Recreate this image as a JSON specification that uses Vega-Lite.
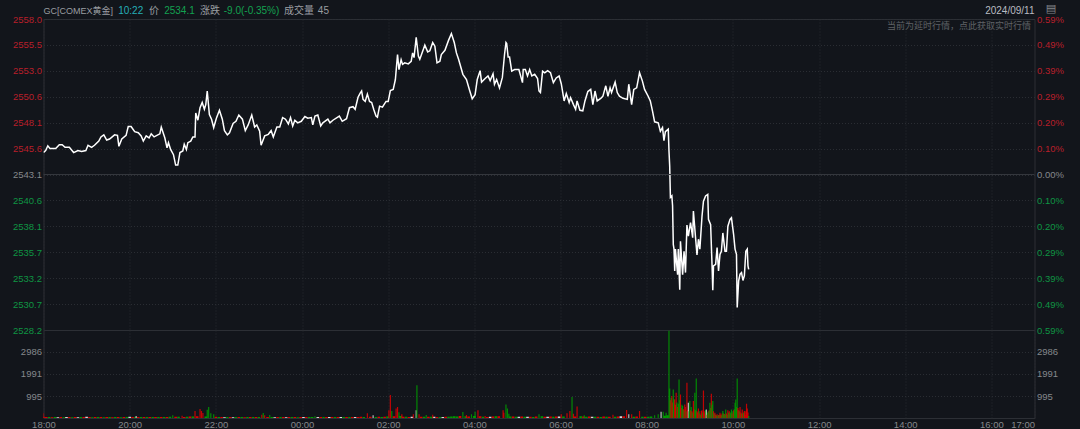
{"$schema":"https://vega.github.io/schema/vega-lite/v6.json","background":"#12151b","padding":{"left":11.5,"right":18,"top":2,"bottom":0},"spacing":0,"bounds":"flush","config":{"font":"Liberation Sans, Noto Sans CJK SC","view":{"stroke":"#2c2f35","strokeWidth":1},"axis":{"labelFontSize":9.5,"labelColor":"#85888c","ticks":false,"domain":false,"title":null,"labelPadding":2,"labelOverlap":false,"labelBound":false,"gridColor":"#2a2d33","gridDash":[1,2],"gridOpacity":1}},"resolve":{"scale":{"color":"independent"}},"datasets":{"price":[
{"minute":0,"price":2545.2},{"minute":3,"price":2545.4},{"minute":6,"price":2545.85},{"minute":9,"price":2545.6},{"minute":13,"price":2545.6},{"minute":17,"price":2545.6},{"minute":22,"price":2545.95},{"minute":26,"price":2545.95},{"minute":30,"price":2545.7},{"minute":36,"price":2545.7},{"minute":42,"price":2545.2},{"minute":48,"price":2545.4},{"minute":53,"price":2545.3},{"minute":59,"price":2545.4},{"minute":62,"price":2545.9},{"minute":67,"price":2545.7},{"minute":71,"price":2545.9},{"minute":77,"price":2546.3},{"minute":80,"price":2546.7},{"minute":84,"price":2546.9},{"minute":88,"price":2546.4},{"minute":92,"price":2546.5},{"minute":99,"price":2546.9},{"minute":103,"price":2546.85},{"minute":105,"price":2545.8},{"minute":109,"price":2546.5},{"minute":115,"price":2546.85},{"minute":118,"price":2547.7},{"minute":122,"price":2547.7},{"minute":127,"price":2547.2},{"minute":132,"price":2547.1},{"minute":136,"price":2546.8},{"minute":139,"price":2546.3},{"minute":143,"price":2546.8},{"minute":147,"price":2546.6},{"minute":150,"price":2547.0},{"minute":154,"price":2546.7},{"minute":162,"price":2547.0},{"minute":164,"price":2547.65},{"minute":169,"price":2546.6},{"minute":172,"price":2545.65},{"minute":174,"price":2546.15},{"minute":177,"price":2545.5},{"minute":181,"price":2545.0},{"minute":184,"price":2544.0},{"minute":187,"price":2544.0},{"minute":190,"price":2545.2},{"minute":194,"price":2545.35},{"minute":196,"price":2546.0},{"minute":199,"price":2545.5},{"minute":201,"price":2546.15},{"minute":205,"price":2546.3},{"minute":208,"price":2546.7},{"minute":211,"price":2546.7},{"minute":212,"price":2549.0},{"minute":215,"price":2548.3},{"minute":218,"price":2549.5},{"minute":221,"price":2550.0},{"minute":224,"price":2549.35},{"minute":226,"price":2549.8},{"minute":228,"price":2551.1},{"minute":231,"price":2548.85},{"minute":234,"price":2548.4},{"minute":237,"price":2547.6},{"minute":241,"price":2548.55},{"minute":245,"price":2549.25},{"minute":249,"price":2548.4},{"minute":252,"price":2547.3},{"minute":256,"price":2546.9},{"minute":259,"price":2547.1},{"minute":264,"price":2548.0},{"minute":268,"price":2548.2},{"minute":272,"price":2548.8},{"minute":277,"price":2548.4},{"minute":281,"price":2547.3},{"minute":285,"price":2547.85},{"minute":290,"price":2548.8},{"minute":294,"price":2547.65},{"minute":297,"price":2547.85},{"minute":301,"price":2547.25},{"minute":303,"price":2545.9},{"minute":308,"price":2546.8},{"minute":313,"price":2546.95},{"minute":317,"price":2547.3},{"minute":320,"price":2546.7},{"minute":325,"price":2547.65},{"minute":329,"price":2547.65},{"minute":333,"price":2548.55},{"minute":337,"price":2548.4},{"minute":341,"price":2547.95},{"minute":344,"price":2548.55},{"minute":347,"price":2547.75},{"minute":350,"price":2548.3},{"minute":354,"price":2548.05},{"minute":359,"price":2548.2},{"minute":364,"price":2548.65},{"minute":368,"price":2548.5},{"minute":373,"price":2548.55},{"minute":375,"price":2547.85},{"minute":378,"price":2548.7},{"minute":382,"price":2548.8},{"minute":386,"price":2547.75},{"minute":389,"price":2548.05},{"minute":396,"price":2548.4},{"minute":399,"price":2548.05},{"minute":403,"price":2548.3},{"minute":412,"price":2548.7},{"minute":416,"price":2548.2},{"minute":422,"price":2548.45},{"minute":426,"price":2549.5},{"minute":431,"price":2549.6},{"minute":434,"price":2549.35},{"minute":438,"price":2550.5},
{"minute":441,"price":2550.9},{"minute":443,"price":2551.1},{"minute":445,"price":2550.3},{"minute":448,"price":2550.1},{"minute":451,"price":2550.8},{"minute":454,"price":2550.1},{"minute":457,"price":2550.0},{"minute":460,"price":2549.3},{"minute":463,"price":2548.7},{"minute":465,"price":2548.6},{"minute":468,"price":2549.65},{"minute":472,"price":2549.55},{"minute":477,"price":2550.1},{"minute":480,"price":2550.1},{"minute":483,"price":2551.15},{"minute":487,"price":2551.25},{"minute":490,"price":2552.2},{"minute":493,"price":2554.6},{"minute":495,"price":2553.15},{"minute":498,"price":2554.1},{"minute":500,"price":2553.65},{"minute":503,"price":2553.8},{"minute":508,"price":2553.7},{"minute":512,"price":2553.95},{"minute":514,"price":2554.75},{"minute":516,"price":2554.3},{"minute":519,"price":2556.25},{"minute":522,"price":2554.45},{"minute":524,"price":2554.15},{"minute":529,"price":2555.1},{"minute":531,"price":2555.5},{"minute":535,"price":2554.85},{"minute":538,"price":2554.95},{"minute":542,"price":2555.75},{"minute":545,"price":2555.4},{"minute":548,"price":2553.8},{"minute":552,"price":2553.95},{"minute":554,"price":2554.6},{"minute":559,"price":2555.0},{"minute":564,"price":2555.95},{"minute":568,"price":2556.6},{"minute":572,"price":2555.75},{"minute":575,"price":2554.75},{"minute":578,"price":2554.15},{"minute":584,"price":2552.7},{"minute":589,"price":2552.2},{"minute":593,"price":2551.25},{"minute":597,"price":2550.35},{"minute":601,"price":2550.75},{"minute":604,"price":2552.2},{"minute":608,"price":2553.05},{"minute":610,"price":2551.95},{"minute":615,"price":2552.3},{"minute":619,"price":2552.55},{"minute":622,"price":2552.1},{"minute":626,"price":2552.75},{"minute":628,"price":2551.75},{"minute":631,"price":2552.2},{"minute":635,"price":2551.4},{"minute":639,"price":2552.4},{"minute":642,"price":2554.6},{"minute":644,"price":2555.75},{"minute":645,"price":2555.65},{"minute":647,"price":2554.35},{"minute":649,"price":2554.35},{"minute":652,"price":2553.0},{"minute":656,"price":2553.15},{"minute":662,"price":2553.15},{"minute":667,"price":2551.9},{"minute":668,"price":2553.15},{"minute":671,"price":2553.15},{"minute":674,"price":2552.55},{"minute":677,"price":2553.15},{"minute":680,"price":2552.55},{"minute":684,"price":2552.7},{"minute":688,"price":2552.3},{"minute":690,"price":2551.1},{"minute":692,"price":2550.95},{"minute":695,"price":2553.0},{"minute":698,"price":2552.85},{"minute":702,"price":2553.05},{"minute":706,"price":2552.85},{"minute":710,"price":2551.9},{"minute":714,"price":2552.35},{"minute":718,"price":2552.55},{"minute":721,"price":2551.8},{"minute":725,"price":2550.15},{"minute":728,"price":2550.85},{"minute":732,"price":2550.0},{"minute":734,"price":2550.45},{"minute":738,"price":2549.8},{"minute":741,"price":2549.35},{"minute":743,"price":2550.15},{"minute":747,"price":2549.25},{"minute":751,"price":2549.2},{"minute":754,"price":2550.15},{"minute":758,"price":2551.05},{"minute":762,"price":2551.25},{"minute":765,"price":2549.8},{"minute":768,"price":2551.1},{"minute":771,"price":2550.15},{"minute":776,"price":2550.4},{"minute":779,"price":2550.6},{"minute":783,"price":2551.6},{"minute":786,"price":2550.6},{"minute":789,"price":2551.4},{"minute":791,"price":2550.95},{"minute":796,"price":2551.95},{"minute":799,"price":2550.95},{"minute":802,"price":2550.6},{"minute":807,"price":2550.4},{"minute":813,"price":2550.3},{"minute":815,"price":2551.75},{"minute":819,"price":2549.8},{"minute":822,"price":2551.25},{"minute":826,"price":2551.4},{"minute":830,"price":2552.85},{"minute":834,"price":2552.05},{"minute":837,"price":2551.25},{"minute":842,"price":2550.6},{"minute":845,"price":2550.15},{"minute":848,"price":2549.2},{"minute":851,"price":2548.15},{"minute":856,"price":2548.05},{"minute":859,"price":2547.25},{"minute":862,"price":2547.6},{"minute":864,"price":2546.35},{"minute":866,"price":2547.2},{"minute":870,"price":2547.45},{"minute":871,"price":2545.35},{"minute":872,"price":2543.9},{"minute":873,"price":2540.9},{"minute":875,"price":2541.05},{"minute":876,"price":2540.1},{"minute":877,"price":2536.4},{"minute":878,"price":2535.95},{"minute":879,"price":2533.85},{"minute":880,"price":2535.95},{"minute":883,"price":2533.5},{"minute":884,"price":2535.95},{"minute":886,"price":2532.05},{"minute":887,"price":2536.7},{"minute":890,"price":2533.5},{"minute":892,"price":2535.75},{"minute":894,"price":2533.7},{"minute":896,"price":2538.25},{"minute":898,"price":2537.2},{"minute":901,"price":2538.5},{"minute":904,"price":2537.05},{"minute":905,"price":2539.6},{"minute":908,"price":2537.05},{"minute":910,"price":2535.4},{"minute":912,"price":2536.9},{"minute":914,"price":2535.95},{"minute":917,"price":2539.1},{"minute":919,"price":2540.55},{"minute":922,"price":2541.05},{"minute":925,"price":2541.2},{"minute":926,"price":2538.8},{"minute":929,"price":2538.3},{"minute":931,"price":2534.35},{"minute":932,"price":2532.0},{"minute":933,"price":2534.35},{"minute":936,"price":2534.5},{"minute":938,"price":2536.1},{"minute":940,"price":2533.85},{"minute":942,"price":2535.45},{"minute":944,"price":2535.75},{"minute":946,"price":2537.5},{"minute":949,"price":2535.75},{"minute":951,"price":2535.75},{"minute":953,"price":2538.15},{"minute":956,"price":2538.8},{"minute":958,"price":2538.95},{"minute":961,"price":2537.35},{"minute":963,"price":2535.95},{"minute":965,"price":2535.45},{"minute":966,"price":2530.35},{"minute":968,"price":2532.9},{"minute":970,"price":2533.55},{"minute":972,"price":2533.7},{"minute":974,"price":2532.95},{"minute":976,"price":2533.4},{"minute":978,"price":2535.75},{"minute":980,"price":2535.95},{"minute":981,"price":2534.35},{"minute":982,"price":2534.0}],
"base":[{"minute":0,"volume":60,"side":"up"},{"minute":4,"volume":50,"side":"up"},{"minute":8,"volume":40,"side":"down"},{"minute":12,"volume":35,"side":"up"},{"minute":16,"volume":45,"side":"down"},{"minute":20,"volume":30,"side":"flat"},{"minute":24,"volume":40,"side":"up"},{"minute":28,"volume":35,"side":"down"},{"minute":32,"volume":40,"side":"flat"},{"minute":36,"volume":45,"side":"up"},{"minute":40,"volume":35,"side":"down"},{"minute":44,"volume":40,"side":"up"},{"minute":48,"volume":30,"side":"flat"},{"minute":52,"volume":40,"side":"down"},{"minute":56,"volume":45,"side":"up"},{"minute":60,"volume":55,"side":"flat"},{"minute":64,"volume":40,"side":"up"},{"minute":68,"volume":35,"side":"down"},{"minute":72,"volume":40,"side":"up"},{"minute":76,"volume":45,"side":"down"},{"minute":80,"volume":40,"side":"up"},{"minute":84,"volume":35,"side":"down"},{"minute":88,"volume":40,"side":"up"},{"minute":92,"volume":45,"side":"down"},{"minute":96,"volume":35,"side":"up"},{"minute":100,"volume":40,"side":"down"},{"minute":104,"volume":45,"side":"up"},{"minute":108,"volume":35,"side":"down"},{"minute":112,"volume":40,"side":"up"},{"minute":116,"volume":50,"side":"down"},{"minute":120,"volume":55,"side":"flat"},{"minute":124,"volume":45,"side":"up"},{"minute":128,"volume":40,"side":"down"},{"minute":132,"volume":45,"side":"up"},{"minute":136,"volume":40,"side":"down"},{"minute":140,"volume":50,"side":"up"},{"minute":144,"volume":40,"side":"down"},{"minute":148,"volume":45,"side":"up"},{"minute":152,"volume":40,"side":"down"},{"minute":156,"volume":50,"side":"up"},{"minute":160,"volume":45,"side":"down"},{"minute":164,"volume":50,"side":"up"},{"minute":168,"volume":45,"side":"down"},{"minute":172,"volume":50,"side":"up"},{"minute":176,"volume":60,"side":"down"},{"minute":184,"volume":55,"side":"up"},{"minute":188,"volume":60,"side":"down"},{"minute":196,"volume":50,"side":"up"},{"minute":200,"volume":60,"side":"down"},{"minute":204,"volume":65,"side":"up"},{"minute":208,"volume":70,"side":"down"},{"minute":214,"volume":80,"side":"up"},{"minute":226,"volume":70,"side":"down"},{"minute":240,"volume":55,"side":"up"},{"minute":244,"volume":45,"side":"down"},{"minute":248,"volume":40,"side":"up"},{"minute":252,"volume":35,"side":"flat"},{"minute":256,"volume":40,"side":"down"},{"minute":260,"volume":45,"side":"up"},{"minute":264,"volume":35,"side":"flat"},{"minute":268,"volume":40,"side":"down"},{"minute":272,"volume":45,"side":"up"},{"minute":276,"volume":40,"side":"down"},{"minute":280,"volume":35,"side":"up"},{"minute":284,"volume":45,"side":"down"},{"minute":288,"volume":40,"side":"up"},{"minute":292,"volume":45,"side":"down"},{"minute":296,"volume":40,"side":"up"},{"minute":300,"volume":50,"side":"down"},{"minute":312,"volume":40,"side":"up"},{"minute":318,"volume":45,"side":"down"},{"minute":322,"volume":35,"side":"flat"},{"minute":326,"volume":40,"side":"up"},{"minute":330,"volume":45,"side":"down"},{"minute":334,"volume":40,"side":"up"},{"minute":338,"volume":35,"side":"flat"},{"minute":342,"volume":40,"side":"up"},{"minute":346,"volume":45,"side":"down"},{"minute":350,"volume":40,"side":"up"},{"minute":354,"volume":35,"side":"down"},{"minute":358,"volume":45,"side":"up"},{"minute":362,"volume":40,"side":"flat"},{"minute":366,"volume":45,"side":"up"},{"minute":370,"volume":40,"side":"down"},{"minute":374,"volume":50,"side":"down"},{"minute":382,"volume":45,"side":"flat"},{"minute":386,"volume":40,"side":"up"},{"minute":390,"volume":45,"side":"down"},{"minute":394,"volume":40,"side":"up"},{"minute":398,"volume":45,"side":"flat"},{"minute":402,"volume":50,"side":"up"},{"minute":406,"volume":40,"side":"down"},{"minute":410,"volume":45,"side":"up"},{"minute":414,"volume":50,"side":"flat"},{"minute":418,"volume":45,"side":"down"},{"minute":422,"volume":50,"side":"up"},{"minute":426,"volume":45,"side":"down"},{"minute":430,"volume":50,"side":"up"},{"minute":434,"volume":45,"side":"flat"},{"minute":438,"volume":50,"side":"up"},{"minute":442,"volume":60,"side":"up"},{"minute":446,"volume":50,"side":"down"},{"minute":455,"volume":60,"side":"up"},{"minute":463,"volume":50,"side":"down"},{"minute":467,"volume":55,"side":"up"},{"minute":471,"volume":50,"side":"down"},{"minute":475,"volume":60,"side":"up"},{"minute":479,"volume":70,"side":"down"},{"minute":488,"volume":80,"side":"up"},{"minute":497,"volume":90,"side":"down"},{"minute":501,"volume":60,"side":"up"},{"minute":505,"volume":55,"side":"down"},{"minute":509,"volume":50,"side":"up"},{"minute":513,"volume":60,"side":"flat"},{"minute":526,"volume":55,"side":"up"},{"minute":530,"volume":60,"side":"down"},{"minute":536,"volume":55,"side":"up"},{"minute":540,"volume":60,"side":"down"},{"minute":544,"volume":55,"side":"flat"},{"minute":548,"volume":50,"side":"up"},{"minute":552,"volume":45,"side":"down"},{"minute":556,"volume":50,"side":"flat"},{"minute":560,"volume":55,"side":"up"},{"minute":564,"volume":60,"side":"down"},{"minute":568,"volume":70,"side":"down"},{"minute":572,"volume":80,"side":"down"},{"minute":576,"volume":70,"side":"down"},{"minute":580,"volume":90,"side":"up"},{"minute":588,"volume":80,"side":"down"},{"minute":592,"volume":70,"side":"up"},{"minute":600,"volume":90,"side":"down"},{"minute":608,"volume":75,"side":"up"},{"minute":612,"volume":60,"side":"down"},{"minute":618,"volume":50,"side":"up"},{"minute":622,"volume":60,"side":"flat"},{"minute":626,"volume":70,"side":"up"},{"minute":630,"volume":80,"side":"down"},{"minute":634,"volume":75,"side":"up"},{"minute":650,"volume":70,"side":"down"},{"minute":654,"volume":65,"side":"up"},{"minute":658,"volume":55,"side":"down"},{"minute":662,"volume":60,"side":"flat"},{"minute":666,"volume":65,"side":"up"},{"minute":670,"volume":60,"side":"down"},{"minute":674,"volume":55,"side":"flat"},{"minute":678,"volume":60,"side":"up"},{"minute":682,"volume":50,"side":"down"},{"minute":686,"volume":70,"side":"up"},{"minute":694,"volume":75,"side":"down"},{"minute":698,"volume":60,"side":"up"},{"minute":702,"volume":55,"side":"flat"},{"minute":706,"volume":65,"side":"up"},{"minute":710,"volume":60,"side":"down"},{"minute":714,"volume":65,"side":"up"},{"minute":718,"volume":70,"side":"flat"},{"minute":724,"volume":70,"side":"down"},{"minute":740,"volume":70,"side":"up"},{"minute":748,"volume":80,"side":"down"},{"minute":752,"volume":70,"side":"up"},{"minute":756,"volume":60,"side":"down"},{"minute":760,"volume":65,"side":"up"},{"minute":764,"volume":55,"side":"flat"},{"minute":768,"volume":60,"side":"down"},{"minute":772,"volume":60,"side":"up"},{"minute":776,"volume":50,"side":"down"},{"minute":780,"volume":65,"side":"up"},{"minute":784,"volume":60,"side":"down"},{"minute":788,"volume":55,"side":"up"},{"minute":796,"volume":60,"side":"down"},{"minute":800,"volume":70,"side":"up"},{"minute":804,"volume":75,"side":"flat"},{"minute":808,"volume":80,"side":"up"},{"minute":822,"volume":60,"side":"down"},{"minute":826,"volume":65,"side":"up"},{"minute":834,"volume":55,"side":"down"},{"minute":838,"volume":60,"side":"up"},{"minute":842,"volume":55,"side":"down"},{"minute":846,"volume":65,"side":"down"},{"minute":865,"volume":100,"side":"down"},{"minute":869,"volume":120,"side":"down"}],
"peaks":[{"minute":0,"volume":210,"side":"up"},{"minute":129,"volume":90,"side":"flat"},{"minute":180,"volume":120,"side":"down"},{"minute":193,"volume":105,"side":"up"},{"minute":211,"volume":315,"side":"up"},{"minute":218,"volume":405,"side":"up"},{"minute":220,"volume":315,"side":"up"},{"minute":222,"volume":225,"side":"up"},{"minute":228,"volume":375,"side":"down"},{"minute":230,"volume":495,"side":"down"},{"minute":233,"volume":210,"side":"down"},{"minute":237,"volume":165,"side":"down"},{"minute":304,"volume":150,"side":"up"},{"minute":306,"volume":225,"side":"down"},{"minute":308,"volume":120,"side":"up"},{"minute":315,"volume":135,"side":"down"},{"minute":378,"volume":80,"side":"down"},{"minute":451,"volume":210,"side":"up"},{"minute":459,"volume":120,"side":"flat"},{"minute":481,"volume":345,"side":"up"},{"minute":483,"volume":1035,"side":"up"},{"minute":485,"volume":315,"side":"down"},{"minute":491,"volume":435,"side":"up"},{"minute":493,"volume":495,"side":"up"},{"minute":495,"volume":255,"side":"down"},{"minute":499,"volume":165,"side":"up"},{"minute":515,"volume":165,"side":"up"},{"minute":519,"volume":345,"side":"flat"},{"minute":520,"volume":1485,"side":"down"},{"minute":523,"volume":165,"side":"up"},{"minute":533,"volume":135,"side":"down"},{"minute":542,"volume":150,"side":"up"},{"minute":584,"volume":270,"side":"down"},{"minute":589,"volume":135,"side":"up"},{"minute":596,"volume":165,"side":"down"},{"minute":601,"volume":285,"side":"down"},{"minute":605,"volume":345,"side":"up"},{"minute":615,"volume":90,"side":"up"},{"minute":640,"volume":345,"side":"up"},{"minute":641,"volume":240,"side":"up"},{"minute":644,"volume":615,"side":"down"},{"minute":646,"volume":435,"side":"down"},{"minute":648,"volume":195,"side":"down"},{"minute":690,"volume":165,"side":"down"},{"minute":721,"volume":165,"side":"up"},{"minute":729,"volume":210,"side":"up"},{"minute":733,"volume":315,"side":"up"},{"minute":736,"volume":945,"side":"down"},{"minute":738,"volume":195,"side":"up"},{"minute":743,"volume":525,"side":"up"},{"minute":753,"volume":120,"side":"down"},{"minute":793,"volume":150,"side":"up"},{"minute":812,"volume":360,"side":"up"},{"minute":815,"volume":165,"side":"flat"},{"minute":819,"volume":165,"side":"up"},{"minute":830,"volume":315,"side":"up"},{"minute":851,"volume":120,"side":"down"},{"minute":856,"volume":165,"side":"down"},{"minute":860,"volume":285,"side":"flat"},{"minute":863,"volume":285,"side":"down"},{"minute":867,"volume":240,"side":"down"},{"minute":871,"volume":3945,"side":"down"},{"minute":872,"volume":1335,"side":"down"},{"minute":873,"volume":800,"side":"up"},{"minute":874,"volume":900,"side":"down"},{"minute":875,"volume":990,"side":"up"},{"minute":876,"volume":700,"side":"up"},{"minute":877,"volume":1290,"side":"down"},{"minute":878,"volume":850,"side":"down"},{"minute":879,"volume":840,"side":"up"},{"minute":880,"volume":600,"side":"up"},{"minute":881,"volume":1140,"side":"up"},{"minute":882,"volume":700,"side":"down"},{"minute":883,"volume":500,"side":"up"},{"minute":884,"volume":650,"side":"down"},{"minute":885,"volume":1740,"side":"down"},{"minute":886,"volume":800,"side":"down"},{"minute":887,"volume":1065,"side":"up"},{"minute":888,"volume":450,"side":"up"},{"minute":889,"volume":600,"side":"down"},{"minute":890,"volume":540,"side":"down"},{"minute":891,"volume":400,"side":"up"},{"minute":892,"volume":350,"side":"down"},{"minute":893,"volume":615,"side":"up"},{"minute":894,"volume":500,"side":"up"},{"minute":895,"volume":300,"side":"down"},{"minute":896,"volume":1590,"side":"up"},{"minute":897,"volume":350,"side":"up"},{"minute":898,"volume":690,"side":"flat"},{"minute":899,"volume":300,"side":"down"},{"minute":900,"volume":765,"side":"down"},{"minute":901,"volume":350,"side":"up"},{"minute":902,"volume":500,"side":"down"},{"minute":903,"volume":300,"side":"up"},{"minute":904,"volume":250,"side":"down"},{"minute":905,"volume":765,"side":"up"},{"minute":906,"volume":400,"side":"up"},{"minute":907,"volume":1140,"side":"down"},{"minute":908,"volume":350,"side":"down"},{"minute":909,"volume":1785,"side":"down"},{"minute":910,"volume":300,"side":"up"},{"minute":911,"volume":250,"side":"up"},{"minute":912,"volume":435,"side":"up"},{"minute":913,"volume":300,"side":"down"},{"minute":914,"volume":200,"side":"up"},{"minute":915,"volume":150,"side":"down"},{"minute":916,"volume":315,"side":"up"},{"minute":917,"volume":350,"side":"up"},{"minute":918,"volume":250,"side":"down"},{"minute":919,"volume":1245,"side":"up"},{"minute":920,"volume":300,"side":"up"},{"minute":921,"volume":200,"side":"up"},{"minute":922,"volume":350,"side":"down"},{"minute":923,"volume":390,"side":"flat"},{"minute":924,"volume":150,"side":"up"},{"minute":925,"volume":250,"side":"down"},{"minute":926,"volume":300,"side":"down"},{"minute":927,"volume":350,"side":"up"},{"minute":928,"volume":690,"side":"down"},{"minute":929,"volume":450,"side":"down"},{"minute":930,"volume":1095,"side":"up"},{"minute":931,"volume":600,"side":"down"},{"minute":932,"volume":765,"side":"down"},{"minute":933,"volume":300,"side":"up"},{"minute":934,"volume":200,"side":"down"},{"minute":935,"volume":240,"side":"up"},{"minute":936,"volume":150,"side":"up"},{"minute":937,"volume":120,"side":"down"},{"minute":938,"volume":170,"side":"up"},{"minute":939,"volume":100,"side":"down"},{"minute":940,"volume":140,"side":"up"},{"minute":941,"volume":150,"side":"down"},{"minute":942,"volume":240,"side":"up"},{"minute":943,"volume":160,"side":"up"},{"minute":944,"volume":130,"side":"down"},{"minute":945,"volume":200,"side":"up"},{"minute":946,"volume":315,"side":"down"},{"minute":947,"volume":220,"side":"down"},{"minute":948,"volume":180,"side":"up"},{"minute":949,"volume":150,"side":"down"},{"minute":950,"volume":390,"side":"down"},{"minute":951,"volume":200,"side":"up"},{"minute":952,"volume":150,"side":"down"},{"minute":953,"volume":345,"side":"up"},{"minute":954,"volume":250,"side":"down"},{"minute":955,"volume":300,"side":"up"},{"minute":956,"volume":200,"side":"down"},{"minute":957,"volume":250,"side":"down"},{"minute":958,"volume":390,"side":"down"},{"minute":959,"volume":200,"side":"up"},{"minute":960,"volume":300,"side":"down"},{"minute":961,"volume":350,"side":"up"},{"minute":962,"volume":400,"side":"down"},{"minute":963,"volume":690,"side":"down"},{"minute":964,"volume":840,"side":"down"},{"minute":965,"volume":500,"side":"down"},{"minute":966,"volume":1785,"side":"down"},{"minute":967,"volume":450,"side":"up"},{"minute":968,"volume":350,"side":"up"},{"minute":969,"volume":300,"side":"down"},{"minute":970,"volume":495,"side":"up"},{"minute":971,"volume":250,"side":"up"},{"minute":972,"volume":200,"side":"down"},{"minute":973,"volume":390,"side":"up"},{"minute":974,"volume":200,"side":"up"},{"minute":975,"volume":250,"side":"down"},{"minute":976,"volume":315,"side":"up"},{"minute":977,"volume":150,"side":"up"},{"minute":978,"volume":300,"side":"up"},{"minute":979,"volume":645,"side":"up"},{"minute":980,"volume":435,"side":"up"},{"minute":981,"volume":250,"side":"up"},{"minute":982,"volume":90,"side":"down"}],
"headerLeft":[{"label":"10:22","at":104,"tone":"time"},{"label":"价","at":147,"tone":"name"},{"label":"2534.1","at":168,"tone":"fall"},{"label":"涨跌","at":218,"tone":"name"},{"label":"-9.0(-0.35%)","at":251,"tone":"fall"},{"label":"成交量","at":335,"tone":"name"},{"label":"45","at":382,"tone":"name"}]},
"vconcat":[{"width":991,"height":311,"layer":[
{"data":{"name":"price"},"mark":{"type":"line","color":"#ffffff","strokeWidth":1.5,"interpolate":"linear","clip":true},"encoding":{"x":{"field":"minute","type":"quantitative","scale":{"domain":[0,1380],"nice":false},"axis":{"values":[0,120,240,360,480,600,720,840,960,1080,1200,1320],"labels":false,"grid":true}},"y":{"field":"price","type":"quantitative","scale":{"domain":[2528.2,2558],"nice":false,"zero":false},"axis":{"orient":"left","grid":true,"format":".1f","values":[2528.2,2530.68,2533.17,2535.66,2538.13,2540.62,2543.1,2545.58,2548.07,2550.55,2553.03,2555.52,2558],"labelColor":{"condition":[{"test":"datum.value>2543.2","value":"#b81f2a"},{"test":"datum.value<2543","value":"#0f9443"}],"value":"#85888c"}}}}},
{"data":{"values":[{"changePct":0}]},"mark":{"type":"rule","color":"#34373d","strokeWidth":1},"encoding":{"y":{"field":"changePct","type":"quantitative","scale":{"domain":[-0.5885,0.5885],"nice":false,"zero":false},"axis":{"orient":"right","grid":false,"labelExpr":"format(abs(datum.value),'.2f')+'%'","values":[-0.5885,-0.4904,-0.3923,-0.2942,-0.1962,-0.0981,0,0.0981,0.1962,0.2942,0.3923,0.4904,0.5885],"labelColor":{"condition":[{"test":"datum.value>0.01","value":"#b81f2a"},{"test":"datum.value<-0.01","value":"#0f9443"}],"value":"#85888c"}}}}},
{"data":{"name":"headerLeft"},"mark":{"type":"text","align":"left","baseline":"middle","fontSize":10,"clip":false},"encoding":{"x":{"field":"at","type":"quantitative"},"y":{"datum":2558.75,"type":"quantitative","scale":{"domain":[2528.2,2558],"nice":false,"zero":false},"axis":null},"text":{"field":"label"},"color":{"field":"tone","legend":null,"scale":{"domain":["name","time","fall"],"range":["#9a9da1","#25aeb8","#12a150"]}}}},
{"data":{"values":[{"label":"GC[COMEX黄金]","at":0}]},"mark":{"type":"text","align":"left","baseline":"middle","fontSize":9,"color":"#9a9da1","clip":false},"encoding":{"x":{"field":"at","type":"quantitative"},"y":{"datum":2558.75,"type":"quantitative","scale":{"domain":[2528.2,2558],"nice":false,"zero":false},"axis":null},"text":{"field":"label"}}},
{"data":{"values":[{"label":"2024/09/11","at":1380}]},"mark":{"type":"text","align":"right","baseline":"middle","fontSize":10,"color":"#b9bcc0","clip":false},"encoding":{"x":{"field":"at","type":"quantitative"},"y":{"datum":2558.75,"type":"quantitative","scale":{"domain":[2528.2,2558],"nice":false,"zero":false},"axis":null},"text":{"field":"label"}}},
{"data":{"values":[{"label":"当前为延时行情，点此获取实时行情","at":1375}]},"mark":{"type":"text","align":"right","baseline":"middle","fontSize":9,"color":"#5f6266","clip":false},"encoding":{"x":{"field":"at","type":"quantitative"},"y":{"datum":2557.3,"type":"quantitative","scale":{"domain":[2528.2,2558],"nice":false,"zero":false},"axis":null},"text":{"field":"label"}}},
{"data":{"values":[{"label":"▤","at":1403}]},"mark":{"type":"text","align":"center","baseline":"middle","fontSize":11,"color":"#85888c","font":"DejaVu Sans","clip":false},"encoding":{"x":{"field":"at","type":"quantitative"},"y":{"datum":2558.95,"type":"quantitative","scale":{"domain":[2528.2,2558],"nice":false,"zero":false},"axis":null},"text":{"field":"label"}}}
],"resolve":{"scale":{"y":"independent"},"axis":{"y":"independent"}}},
{"width":991,"height":88,"layer":[
{"data":{"name":"base"},"mark":{"type":"bar","size":2.6,"clip":true},"encoding":{"x":{"field":"minute","type":"quantitative","scale":{"domain":[0,1380],"padding":0,"nice":false},"axis":{"values":[0,120,240,360,480,600,720,840,960,1080,1200,1320,1380],"labelExpr":"timeFormat(datetime(2024,8,10,18,datum.value),'%H:%M')","grid":true,"labelPadding":1,"labelAlign":{"condition":{"test":"datum.value==1380","value":"right"},"value":"center"}}},"y":{"field":"volume","type":"quantitative","stack":null,"scale":{"domain":[0,3981],"nice":false},"axis":{"orient":"left","grid":true,"format":"d","values":[995,1991,2986]}},"color":{"field":"side","legend":null,"scale":{"domain":["up","down","flat"],"range":["#e00000","#009c00","#d8d8d8"]}}}},
{"data":{"name":"peaks"},"mark":{"type":"bar","size":1.2,"opacity":0.85,"clip":true},"encoding":{"x":{"field":"minute","type":"quantitative","scale":{"domain":[0,1380],"padding":0,"nice":false}},"y":{"field":"volume","type":"quantitative","stack":null,"scale":{"domain":[0,3981],"nice":false},"axis":{"orient":"right","grid":false,"format":"d","values":[995,1991,2986]}},"color":{"field":"side","legend":null,"scale":{"domain":["up","down","flat"],"range":["#e00000","#009c00","#d8d8d8"]}}}}
],"resolve":{"scale":{"y":"independent"},"axis":{"y":"independent"}}}
]}
